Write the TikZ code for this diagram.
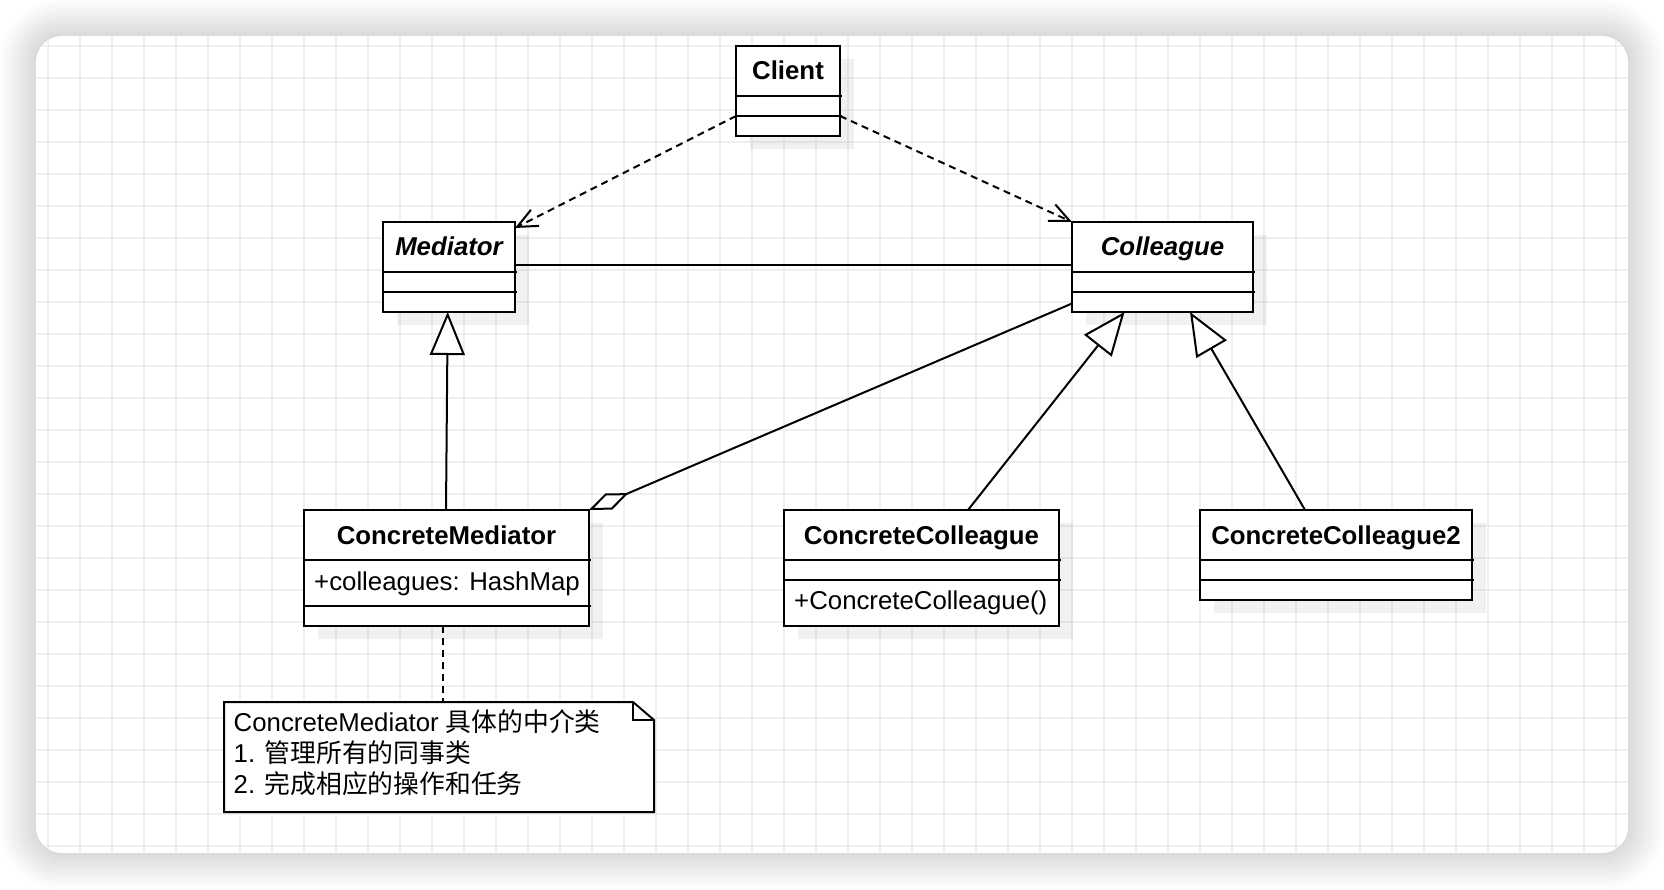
\documentclass[tikz,border=0pt]{standalone}
\usepackage{fontspec}
\setmainfont{Liberation Sans}
\newfontfamily\cjk{Noto Sans CJK SC}
\usetikzlibrary{arrows.meta,calc}
\definecolor{gridc}{RGB}{239,239,239}
\newcommand\dfont{\fontsize{25.8}{31}\selectfont}
\tikzset{
  box/.style={draw, line width=2pt, fill=white, inner sep=0pt, outer sep=0pt},
  shad/.style={fill=black, fill opacity=0.055},
  ttl/.style={font=\dfont\bfseries, anchor=base, inner sep=0pt},
  ttli/.style={font=\dfont\bfseries\itshape, anchor=base, inner sep=0pt},
  attr/.style={font=\dfont, anchor=base west, inner sep=0pt},
  conn/.style={line width=2pt},
  dashline/.style={conn, dash pattern=on 7pt off 5pt},
  dep/.style={dashline, -{Straight Barb[length=20pt, width=18pt, line width=2pt]}},
  gen/.style={conn, -{Triangle[length=43pt, width=35pt, fill=white, line join=miter]}},
  agg/.style={conn, {Diamond[length=43pt, width=17.5pt, fill=white, line join=miter]}-},
}
% name, x1, y1, x2, y2, divider1, divider2
\newcommand\umlclassbox[7]{%
  \fill[shad] (#2+14,#3+13) rectangle (#4+14,#5+13);
  \node[box, anchor=north west, minimum width={#4-#2}, minimum height={#5-#3}] (#1) at (#2,#3) {};
  \draw[line width=2pt] (#2,#6) -- (#4+2,#6);
  \draw[line width=2pt] (#2,#7) -- (#4+2,#7);
}
\begin{document}
\begin{tikzpicture}[x=1pt, y=-1pt]
\useasboundingbox (0,0) rectangle (1664,890);
% card shadow
\foreach \i in {1,...,18}
  \fill[black, opacity=0.009, rounded corners={26+2*\i}] (36-2*\i,36-2*\i) rectangle (1628+2*\i,853+2*\i);
% card with grid
\begin{scope}
  \clip[rounded corners=26pt] (36,36) rectangle (1628,853);
  \fill[white] (36,36) rectangle (1628,853);
  \foreach \x in {48,80,...,1616} \draw[gridc, line width=1.2pt] (\x,36) -- (\x,853);
  \foreach \y in {46,78,...,846} \draw[gridc, line width=1.2pt] (36,\y) -- (1628,\y);
\end{scope}

% classes
\umlclassbox{client}{736}{46}{840}{136}{96}{116}
\node[ttl] (clientT) at (788,80) {Client};

\umlclassbox{med}{383}{222}{515}{312}{272}{292}
\node[ttli] (medT) at (449,256) {Mediator};

\umlclassbox{col}{1072}{222}{1253}{312}{272}{292}
\node[ttli] (colT) at (1162.5,256) {Colleague};

\umlclassbox{cm}{304}{510}{589}{626}{560}{606}
\node[ttl] (cmT) at (446.5,544) {ConcreteMediator};
\node[attr] (cmA) at (314,590) {+colleagues: HashMap};

\umlclassbox{cc}{784}{510}{1059}{626}{560}{580}
\node[ttl] (ccT) at (921.5,544) {ConcreteColleague};
\node[attr] (ccA) at (794,609) {+ConcreteColleague()};

\umlclassbox{cc2}{1200}{510}{1472}{600}{560}{580}
\node[ttl] (cc2T) at (1336,544) {ConcreteColleague2};

% note
\node[inner sep=0pt, outer sep=0pt, minimum width=430, minimum height=110, anchor=north west] (note) at (224,702) {};
\draw[line width=2pt, fill=white, line join=miter] (note.north west) -- ([xshift=-21pt]note.north east) -- ([yshift=-18pt]note.north east) -- (note.south east) -- (note.south west) -- cycle;
\draw[line width=2pt] ([xshift=-21pt]note.north east) |- ([yshift=-18pt]note.north east);
\node[attr] (n1) at (233.5,731.5) {ConcreteMediator {\cjk 具体的中介类}};
\node[attr] (n2) at (233.5,762) {1. {\cjk 管理所有的同事类}};
\node[attr] (n3) at (233.5,793) {2. {\cjk 完成相应的操作和任务}};

% connectors
\draw[dep] ([yshift=-25pt]client.west) -- ([yshift=-6pt]med.north east);
\draw[dep] ([yshift=-25pt]client.east) -- (col.north west);
\draw[conn] ([yshift=1.5pt]med.east) -- ([yshift=1.5pt]col.west);
\draw[gen] ([xshift=-0.5pt]cm.north) -- ([xshift=-1.3pt]med.south);
\draw[agg] (cm.north east) -- ([yshift=8.5pt]col.south west);
\draw[gen] ([xshift=46.5pt]cc.north) -- ([xshift=-38pt]col.south);
\draw[gen] ([xshift=-31pt]cc2.north) -- ([xshift=27.5pt]col.south);
\draw[dashline] ([xshift=-3.5pt]cm.south) -- ([xshift=-3.5pt]cm.south |- note.north);
\end{tikzpicture}
\end{document}
